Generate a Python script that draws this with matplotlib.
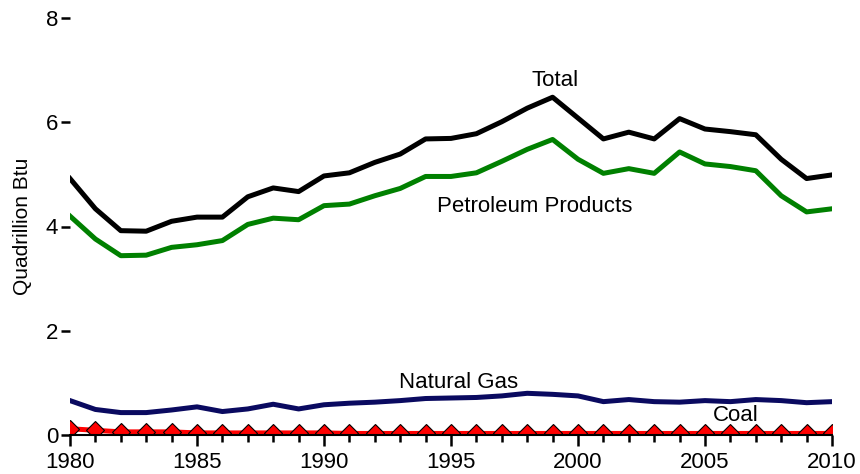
"""
Energy consumption by source, 1980-2010 (quadrillion Btu)
"""

import matplotlib
matplotlib.use("Agg")
import matplotlib.pyplot as plt

plt.rcParams["font.family"] = ["Liberation Sans", "DejaVu Sans"]

years = list(range(1980, 2011))

total = [4.92, 4.34, 3.92, 3.91, 4.10, 4.18, 4.18, 4.57, 4.74, 4.67,
         4.97, 5.03, 5.23, 5.39, 5.68, 5.69, 5.78, 6.01, 6.27, 6.48,
         6.08, 5.68, 5.81, 5.68, 6.07, 5.87, 5.82, 5.76, 5.29, 4.92, 4.99]

petroleum = [4.20, 3.76, 3.44, 3.45, 3.60, 3.65, 3.73, 4.04, 4.16, 4.13,
             4.40, 4.43, 4.59, 4.73, 4.96, 4.96, 5.03, 5.25, 5.48, 5.67,
             5.29, 5.02, 5.11, 5.02, 5.43, 5.20, 5.15, 5.07, 4.59, 4.28, 4.34]

natural_gas = [0.66, 0.49, 0.43, 0.43, 0.48, 0.54, 0.45, 0.50, 0.59, 0.50,
               0.58, 0.61, 0.63, 0.66, 0.70, 0.71, 0.72, 0.75, 0.80, 0.78,
               0.75, 0.64, 0.68, 0.64, 0.63, 0.66, 0.64, 0.68, 0.66, 0.62, 0.64]

coal = [0.12, 0.09, 0.06, 0.06, 0.06, 0.04, 0.04, 0.04, 0.04, 0.04,
        0.04, 0.03, 0.03, 0.03, 0.03, 0.03, 0.03, 0.03, 0.03, 0.03,
        0.03, 0.03, 0.03, 0.03, 0.03, 0.03, 0.03, 0.03, 0.03, 0.03, 0.03]

fig = plt.figure(figsize=(8.6, 4.74), dpi=100)
ax = fig.add_axes([70 / 860, 39 / 474, 762 / 860, 417 / 474])

ax.plot(years, total, color="black", linewidth=3.6)
ax.plot(years, petroleum, color="#008000", linewidth=3.6)
ax.plot(years, natural_gas, color="#0a0a60", linewidth=3.6)
ax.plot(years, coal, color="red", linewidth=3.6, marker="D", markersize=9.5,
        markerfacecolor="red", markeredgecolor="black", markeredgewidth=0.8)

ax.set_xlim(1980, 2010)
ax.set_ylim(0, 8)

for side in ["top", "right", "left"]:
    ax.spines[side].set_visible(False)
ax.spines["bottom"].set_linewidth(1.5)

ax.set_xticks(range(1980, 2011, 5))
ax.set_xticks(years, minor=True)
ax.set_yticks([0, 2, 4, 6, 8])
ax.tick_params(axis="x", which="major", length=8, width=1.8, labelsize=16, pad=4.5)
ax.tick_params(axis="x", which="minor", length=5, width=1.8)
ax.tick_params(axis="y", length=6.5, width=1.8, labelsize=16, pad=2)

ax.set_ylabel("Quadrillion Btu", fontsize=15)
ax.yaxis.set_label_coords(-0.05, 0.5)

ax.text(1999.1, 6.8, "Total", fontsize=16, ha="center", va="center")
ax.text(1998.3, 4.38, "Petroleum Products", fontsize=16, ha="center", va="center")
ax.text(1995.3, 1.0, "Natural Gas", fontsize=16, ha="center", va="center")
ax.text(2006.2, 0.37, "Coal", fontsize=16, ha="center", va="center")

plt.savefig("out.png", dpi=100)
